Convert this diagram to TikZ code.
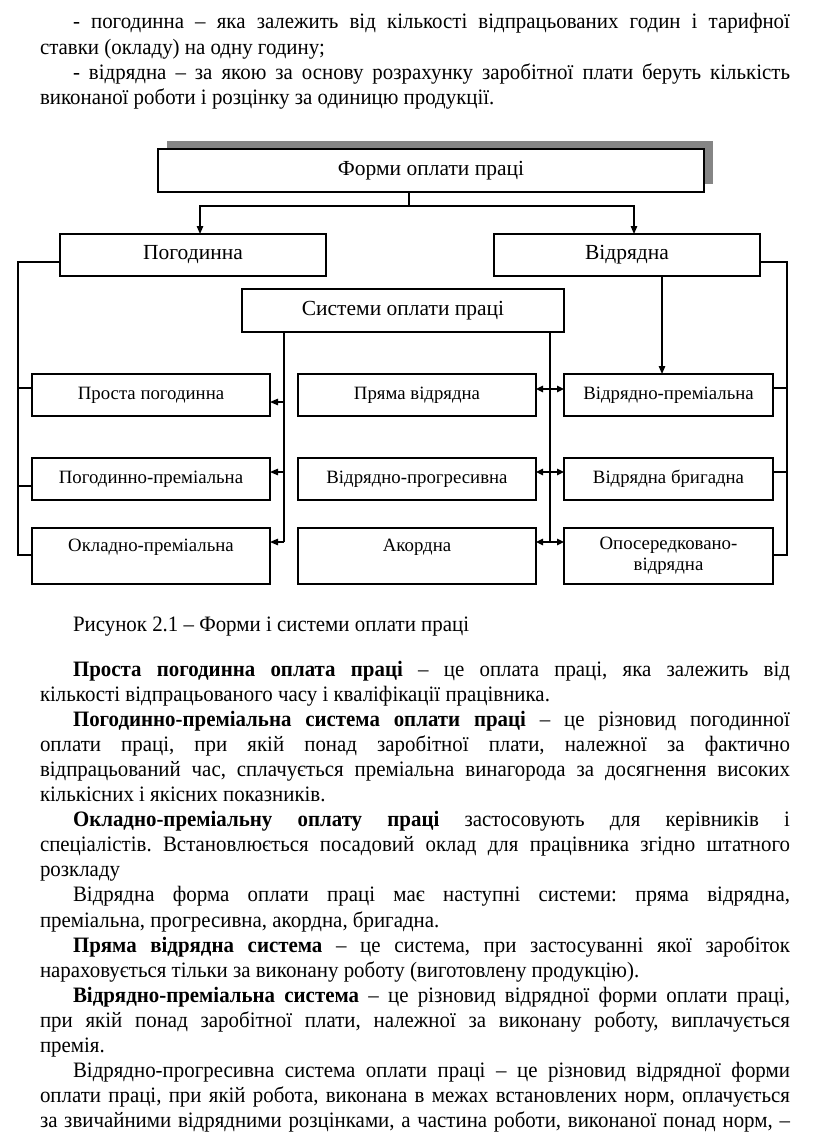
\documentclass[tikz,border=0pt]{standalone}
\usepackage{fontspec}
\setmainfont[FakeStretch=0.95]{Liberation Serif}
\newfontfamily\dfont{Liberation Serif}
\usetikzlibrary{arrows.meta,calc}
\hbadness=10000
\hfuzz=30pt
\frenchspacing
\newcommand{\myjust}[2]{\hbox to #1pt{#2}}
\definecolor{shadowgray}{gray}{0.52}
\begin{document}
\begin{tikzpicture}[x=1pt,y=-1pt]
\tikzset{
 box/.style={draw, line width=1.3pt, fill=white, inner sep=0pt, outer sep=0pt, anchor=north west, align=center, font=\dfont\fontsize{18.8}{21}\selectfont},
 bigbox/.style={box, font=\dfont\fontsize{21.5}{24}\selectfont},
 ln/.style={line width=1.3pt},
 arr/.style={ln, -{Triangle[length=8pt,width=6.5pt]}},
 darr/.style={ln, {Triangle[length=7pt,width=6.5pt]}-{Triangle[length=7pt,width=6.5pt]}},
 body/.style={anchor=base west, inner sep=0pt, outer sep=0pt, font=\frenchspacing\fontsize{22}{25}\selectfont},
}
\useasboundingbox (0,0) rectangle (816,1137);
\fill[white] (0,0) rectangle (816,1137);

% top text
\node[body] (p1) at (73,29) {\myjust{717}{- погодинна – яка залежить від кількості відпрацьованих годин і тарифної}};
\node[body] (p2) at (40,54.3) {ставки (окладу) на одну годину;};
\node[body] (p3) at (73,79.6) {\myjust{717}{- відрядна – за якою за основу розрахунку заробітної плати беруть кількість}};
\node[body] (p4) at (40,105) {виконаної роботи і розцінку за одиницю продукції.};

% diagram
\fill[shadowgray] (167,141) rectangle (713,184);
\node[bigbox, minimum width=546pt, minimum height=43pt] (top) at (158,149) {Форми оплати праці};
\node[bigbox, minimum width=266pt, minimum height=42pt] (pog) at (60,234) {Погодинна};
\node[bigbox, minimum width=266pt, minimum height=42pt] (vid) at (494,234) {Відрядна};
\node[bigbox, minimum width=322pt, minimum height=43pt] (sys) at (242,289) {Системи оплати праці};

\node[box, minimum width=238pt, minimum height=42pt] (L1) at (32,374) {Проста погодинна};
\node[box, minimum width=238pt, minimum height=42pt] (L2) at (32,458) {Погодинно-преміальна};
\node[box, minimum width=238pt, minimum height=56pt] (L3) at (32,528) {Окладно-преміальна\\\mbox{}};
\node[box, minimum width=238pt, minimum height=42pt] (M1) at (298,374) {Пряма відрядна};
\node[box, minimum width=238pt, minimum height=42pt] (M2) at (298,458) {Відрядно-прогресивна};
\node[box, minimum width=238pt, minimum height=56pt] (M3) at (298,528) {Акордна\\\mbox{}};
\node[box, minimum width=209pt, minimum height=42pt] (R1) at (564,374) {Відрядно-преміальна};
\node[box, minimum width=209pt, minimum height=42pt] (R2) at (564,458) {Відрядна бригадна};
\node[box, minimum width=209pt, minimum height=56pt] (R3) at (564,528) {Опосередковано-\\відрядна};

% top connectors
\coordinate (j) at (409,206);
\draw[ln] (top.south -| j) -- (j);
\draw[arr] (j) -| ([xshift=7pt]pog.north);
\draw[arr] (j) -| ([xshift=7pt]vid.north);

% left bus
\coordinate (lb1) at (18,388);
\coordinate (lb2) at (18,486);
\coordinate (lb3) at (18,555);
\draw[ln] ([yshift=-7pt]pog.west) -| (lb3) -- (lb3 -| L3.west);
\draw[ln] (lb1) -- (lb1 -| L1.west);
\draw[ln] (lb2) -- (lb2 -| L2.west);

% systems left
\coordinate (sl1) at (284,402);
\coordinate (sl2) at (284,472);
\coordinate (sl3) at (284,542);
\draw[ln] (sys.south -| sl1) -- (sl3);
\draw[arr] (sl1) -- (sl1 -| L1.east);
\draw[arr] (sl2) -- (sl2 -| L2.east);
\draw[arr] (sl3) -- (sl3 -| L3.east);

% systems right
\coordinate (sr1) at (550,389);
\coordinate (sr2) at (550,472);
\coordinate (sr3) at (550,542);
\draw[ln] (sys.south -| sr1) -- (sr3);
\draw[darr] (sr1 -| M1.east) -- (sr1 -| R1.west);
\draw[darr] (sr2 -| M2.east) -- (sr2 -| R2.west);
\draw[darr] (sr3 -| M3.east) -- (sr3 -| R3.west);

% vid down
\draw[arr] ([xshift=35pt]vid.south) -- ([xshift=35pt]vid.south |- R1.north);

% right bus
\coordinate (rb1) at (787,388);
\coordinate (rb2) at (787,472);
\coordinate (rb3) at (787,555);
\draw[ln] ([yshift=-7pt]vid.east) -| (rb3) -- (rb3 -| R3.east);
\draw[ln] (rb1) -- (rb1 -| R1.east);
\draw[ln] (rb2) -- (rb2 -| R2.east);

% caption
\node[body] (cap) at (73,631) {Рисунок 2.1 – Форми і системи оплати праці};

% body text
\node[body] (b0) at (73,676) {\myjust{717}{\textbf{Проста погодинна оплата праці} – це оплата праці, яка залежить від}};
\node[body] (b1) at (40,701.1) {кількості відпрацьованого часу і кваліфікації працівника.};
\node[body] (b2) at (73,726.2) {\myjust{717}{\textbf{Погодинно-преміальна система оплати праці} – це різновид погодинної}};
\node[body] (b3) at (40,751.3) {\myjust{750}{оплати праці, при якій понад заробітної плати, належної за фактично}};
\node[body] (b4) at (40,776.4) {\myjust{750}{відпрацьований час, сплачується преміальна винагорода за досягнення високих}};
\node[body] (b5) at (40,801.5) {кількісних і якісних показників.};
\node[body] (b6) at (73,826.6) {\myjust{717}{\textbf{Окладно-преміальну оплату праці} застосовують для керівників і}};
\node[body] (b7) at (40,851.7) {\myjust{750}{спеціалістів. Встановлюється посадовий оклад для працівника згідно штатного}};
\node[body] (b8) at (40,876.8) {розкладу};
\node[body] (b9) at (73,901.9) {\myjust{717}{Відрядна форма оплати праці має наступні системи: пряма відрядна,}};
\node[body] (b10) at (40,927) {преміальна, прогресивна, акордна, бригадна.};
\node[body] (b11) at (73,952.1) {\myjust{717}{\textbf{Пряма відрядна система} – це система, при застосуванні якої заробіток}};
\node[body] (b12) at (40,977.2) {нараховується тільки за виконану роботу (виготовлену продукцію).};
\node[body] (b13) at (73,1002.3) {\myjust{717}{\textbf{Відрядно-преміальна система} – це різновид відрядної форми оплати праці,}};
\node[body] (b14) at (40,1027.4) {\myjust{750}{при якій понад заробітної плати, належної за виконану роботу, виплачується}};
\node[body] (b15) at (40,1052.5) {премія.};
\node[body] (b16) at (73,1077.6) {\myjust{717}{Відрядно-прогресивна система оплати праці – це різновид відрядної форми}};
\node[body] (b17) at (40,1102.7) {\myjust{750}{оплати праці, при якій робота, виконана в межах встановлених норм, оплачується}};
\node[body] (b18) at (40,1127.8) {\myjust{750}{за звичайними відрядними розцінками, а частина роботи, виконаної понад норм, –}};
\end{tikzpicture}
\end{document}
